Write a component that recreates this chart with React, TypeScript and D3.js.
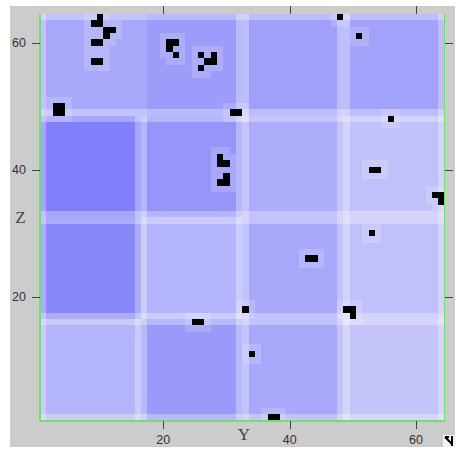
import React from "react";
import * as d3 from "d3";

// ---- data ----
const GRID = 64;
const BLOCK = 16;
// block intensity (red/green level of the blue shade), one list per block row
const blockRowZ49to64 = [168, 156, 160, 162];
const blockRowZ33to48 = [128, 150, 172, 192];
const blockRowZ17to32 = [136, 180, 168, 192];
const blockRowZ1to16 = [180, 154, 168, 196];
// vertical seams between blocks that show no light band: [blockRow, seamIndex]
const hiddenSeams = [[3, 0]];
// black cells (Y, Z)
const pointY = [10, 9, 10, 11, 12, 11, 9, 10, 9, 10, 3, 4, 3, 4, 21, 22, 21, 22, 26, 28, 27, 28, 26, 31, 32, 29, 29, 30, 30, 30, 29, 48, 51, 56, 53, 54, 63, 64, 64, 53, 43, 44, 33, 25, 26, 49, 50, 50, 34, 37, 38];
const pointZ = [64, 63, 63, 62, 62, 61, 60, 60, 57, 57, 50, 50, 49, 49, 60, 60, 59, 58, 58, 58, 57, 57, 56, 49, 49, 42, 41, 41, 39, 38, 38, 64, 61, 48, 40, 40, 36, 36, 35, 30, 26, 26, 18, 16, 16, 18, 18, 17, 11, 1, 1];
const xTicks = [20, 40, 60];
const zTicks = [20, 40, 60];

const blockRows = [blockRowZ1to16, blockRowZ17to32, blockRowZ33to48, blockRowZ49to64];

export default function App() {
  const x = d3.scaleLinear().domain([0.5, GRID + 0.5]).range([40, 444.5]);
  const y = d3.scaleLinear().domain([0.5, GRID + 0.5]).range([420.7, 14]);

  const pointSet = new Set(pointY.map((p, i) => `${p},${pointZ[i]}`));
  const isHalo = (c: number, z: number) => {
    for (let dc = -1; dc <= 1; dc++)
      for (let dz = -1; dz <= 1; dz++) if (pointSet.has(`${c + dc},${z + dz}`)) return true;
    return false;
  };
  const seamHidden = (row: number, seam: number) => hiddenSeams.some(([r, s]) => r === row && s === seam);

  const cells: { c: number; z: number; fill: string }[] = [];
  for (let c = 1; c <= GRID; c++) {
    for (let z = 1; z <= GRID; z++) {
      if (pointSet.has(`${c},${z}`)) {
        cells.push({ c, z, fill: "#000" });
        continue;
      }
      let bc = Math.floor((c - 1) / BLOCK);
      const bz = Math.floor((z - 1) / BLOCK);
      const lc = (c - 1) % BLOCK;
      const lz = (z - 1) % BLOCK;
      let vBorder = lc === 0 || lc === BLOCK - 1;
      if (lc === BLOCK - 1 && seamHidden(bz, bc)) vBorder = false;
      if (lc === 0 && bc > 0 && seamHidden(bz, bc - 1)) {
        vBorder = false;
        bc = bc - 1;
      }
      const v = blockRows[bz][bc];
      const base = d3.rgb(v, v, 250);
      let borders = 0;
      if (vBorder) borders++;
      if (lz === 0 || lz === BLOCK - 1) borders++;
      const halo = isHalo(c, z);
      const keep = Math.pow(1 - 0.3, borders) * (halo ? 1 - 0.16 : 1);
      const t = 1 - keep;
      cells.push({ c, z, fill: d3.interpolateRgb(base, "#ffffff")(t) });
    }
  }

  const tickColor = "#444";
  const numFont = "'Liberation Sans', Arial, sans-serif";

  return (
    <svg
      width={463}
      height={452}
      style={{ position: "absolute", left: 0, top: 0, background: "#fff" }}
    >
      <rect x={10} y={6} width={445} height={441} fill="#cccccc" />
      <g shapeRendering="crispEdges">
        {cells.map((d) => {
          const x0 = Math.round(x(d.c - 0.5));
          const x1 = Math.round(x(d.c + 0.5));
          const y0 = Math.round(y(d.z + 0.5));
          const y1 = Math.round(y(d.z - 0.5));
          return <rect key={`${d.c}-${d.z}`} x={x0} y={y0} width={x1 - x0} height={y1 - y0} fill={d.fill} />;
        })}
      </g>
      {/* frame lines */}
      <g stroke="#6ee06e" strokeWidth={1.5} shapeRendering="crispEdges">
        <line x1={x(0.5)} x2={x(0.5)} y1={y(GRID + 0.5)} y2={y(0.5)} />
        <line x1={x(GRID + 0.5)} x2={x(GRID + 0.5)} y1={y(GRID + 0.5)} y2={y(0.5)} />
        <line x1={x(0.5)} x2={x(GRID + 0.5)} y1={y(0.5) + 0.5} y2={y(0.5) + 0.5} />
      </g>
      {/* ticks */}
      <g stroke={tickColor} strokeWidth={1} shapeRendering="crispEdges">
        {xTicks.map((t) => (
          <g key={`xt${t}`}>
            <line x1={Math.round(x(t))} x2={Math.round(x(t))} y1={6} y2={y(GRID + 0.5)} />
            <line x1={Math.round(x(t))} x2={Math.round(x(t))} y1={y(0.5)} y2={y(0.5) + 8} />
          </g>
        ))}
        {zTicks.map((t) => (
          <g key={`zt${t}`}>
            <line x1={32} x2={x(0.5)} y1={Math.round(y(t))} y2={Math.round(y(t))} />
            <line x1={x(GRID + 0.5)} x2={x(GRID + 0.5) + 8} y1={Math.round(y(t))} y2={Math.round(y(t))} />
          </g>
        ))}
      </g>
      {xTicks.map((t) => (
        <text key={`xl${t}`} x={x(t)} y={444} textAnchor="middle" fontFamily={numFont} fontSize={12.5} fill="#333">
          {t}
        </text>
      ))}
      {zTicks.map((t) => (
        <text key={`zl${t}`} x={26} y={y(t) + 4.5} textAnchor="end" fontFamily={numFont} fontSize={12.5} fill="#333">
          {t}
        </text>
      ))}
      <text x={244} y={440} textAnchor="middle" fontFamily="'Liberation Serif', serif" fontSize={17} fill="#444">
        Y
      </text>
      <text x={20.5} y={223} textAnchor="middle" fontFamily="'Liberation Serif', serif" fontSize={17} fill="#444">
        Z
      </text>
      {/* resize grip icon */}
      <rect x={443} y={435} width={12} height={12} fill="#f2f2f2" />
      <path d="M445 437 H449 M445 437 L452 444 M452 436 V446" stroke="#000" strokeWidth={2} fill="none" />
    </svg>
  );
}
